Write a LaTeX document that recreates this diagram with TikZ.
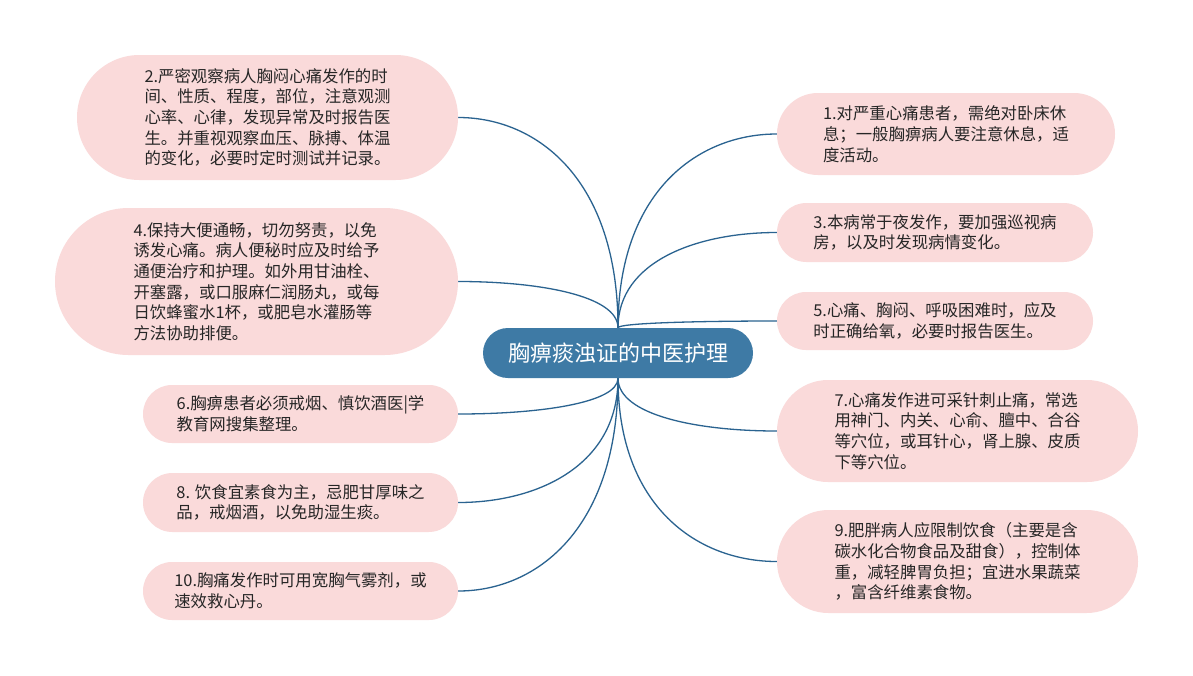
\documentclass[tikz,border=0pt]{standalone}
\usepackage{fontspec}
\setmainfont{Noto Sans CJK SC}
\usetikzlibrary{shapes.misc,calc,backgrounds}
\definecolor{pinkfill}{HTML}{FADADA}
\definecolor{rootfill}{HTML}{3E7AA5}
\definecolor{linecol}{HTML}{2A6390}
\definecolor{txt}{HTML}{262626}
\begin{document}
\begin{tikzpicture}[x=1pt,y=-1pt,
  leaf/.style={shape=rounded rectangle, fill=pinkfill, draw=none, inner sep=0pt,
    align=left, text=txt, font=\fontsize{16.4}{20.7}\selectfont},
  root/.style={shape=rounded rectangle, fill=rootfill, draw=none, inner sep=0pt,
    text=white, font=\fontsize{22}{26}\selectfont},
  conn/.style={draw=linecol, line width=1.3pt}]
\useasboundingbox (0,0) rectangle (1193,675);

\node[root, minimum width=270, minimum height=50] (c) at (618,353) {胸痹痰浊证的中医护理};

\node[leaf, minimum width=381, minimum height=125] (n2) at (267.5,117.5)
  {2.严密观察病人胸闷心痛发作的时\\间、性质、程度，部位，注意观测\\心率、心律，发现异常及时报告医\\生。并重视观察血压、脉搏、体温\\的变化，必要时定时测试并记录。};
\node[leaf, minimum width=403, minimum height=147] (n4) at (256.5,281.5)
  {4.保持大便通畅，切勿努责，以免\\诱发心痛。病人便秘时应及时给予\\通便治疗和护理。如外用甘油栓、\\开塞露，或口服麻仁润肠丸，或每\\日饮蜂蜜水1杯，或肥皂水灌肠等\\方法协助排便。};
\node[leaf, minimum width=315, minimum height=58] (n6) at (300.5,414)
  {6.胸痹患者必须戒烟、慎饮酒医|学\\教育网搜集整理。};
\node[leaf, minimum width=315, minimum height=59] (n8) at (300.5,502.5)
  {8. 饮食宜素食为主，忌肥甘厚味之\\品，戒烟酒，以免助湿生痰。};
\node[leaf, minimum width=315, minimum height=58] (n10) at (300.5,591)
  {10.胸痛发作时可用宽胸气雾剂，或\\速效救心丹。};

\node[leaf, minimum width=338, minimum height=82] (n1) at (946,134)
  {1.对严重心痛患者，需绝对卧床休\\息；一般胸痹病人要注意休息，适\\度活动。};
\node[leaf, minimum width=316, minimum height=59] (n3) at (935,232.5)
  {3.本病常于夜发作，要加强巡视病\\房，以及时发现病情变化。};
\node[leaf, minimum width=316, minimum height=58] (n5) at (935,321)
  {5.心痛、胸闷、呼吸困难时，应及\\时正确给氧，必要时报告医生。};
\node[leaf, minimum width=361, minimum height=102] (n7) at (957.5,431)
  {7.心痛发作进可采针刺止痛，常选\\用神门、内关、心俞、膻中、合谷\\等穴位，或耳针心，肾上腺、皮质\\下等穴位。};
\node[leaf, minimum width=361, minimum height=103] (n9) at (957.5,561.5)
  {9.肥胖病人应限制饮食（主要是含\\碳水化合物食品及甜食），控制体\\重，减轻脾胃负担；宜进水果蔬菜\\，富含纤维素食物。};

\begin{pgfonlayer}{background}
\fill[white] (0,0) rectangle (1193,675);
\foreach \n/\a/\b in {n2/north/east, n4/north/east, n6/south/east, n8/south/east, n10/south/east,
                      n1/north/west, n3/north/west, n5/north/west, n7/south/west, n9/south/west}
  \draw[conn] (c.\a) .. controls ($(c.\a)!0.7!(c.\a |- \n.\b)$) and ($(c.\a |- \n.\b)!0.5!(\n.\b)$) .. (\n.\b);
\end{pgfonlayer}
\end{tikzpicture}
\end{document}
